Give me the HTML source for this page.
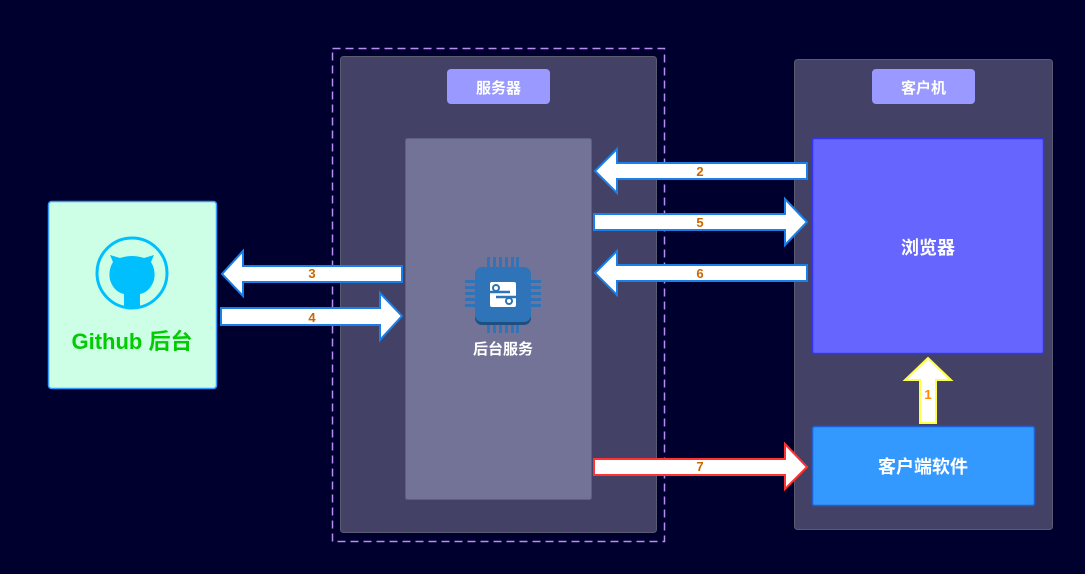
<!DOCTYPE html>
<html><head><meta charset="utf-8"><style>
html,body{margin:0;padding:0;background:#00002e;}
svg{display:block;}
text{font-family:"Liberation Sans","Noto Sans CJK SC",sans-serif;font-weight:bold;}
</style></head><body>
<svg width="1085" height="574" viewBox="0 0 1085 574" xmlns="http://www.w3.org/2000/svg">
<rect width="1085" height="574" fill="#00002e"/>
<rect x="332.5" y="48.5" width="332" height="493" fill="none" stroke="#b98cf2" stroke-width="1.5" stroke-dasharray="8,5"/>
<rect x="340.5" y="56.5" width="316" height="476" rx="3" fill="#434266" stroke="#5a5a70"/>
<rect x="447" y="69" width="103" height="35" rx="4" fill="#9999ff"/>
<text x="498.5" y="93" font-size="15" fill="#fff" text-anchor="middle">服务器</text>
<rect x="405.5" y="138.5" width="186" height="361" rx="2" fill="#737398" stroke="#5f5f80"/>
<rect x="794.5" y="59.5" width="258" height="470" rx="3" fill="#434266" stroke="#5a5a70"/>
<rect x="872" y="69" width="103" height="35" rx="4" fill="#9999ff"/>
<text x="923.5" y="93" font-size="15" fill="#fff" text-anchor="middle">客户机</text>
<rect x="812.5" y="138.5" width="231" height="215" rx="2" fill="#6666ff" stroke="#3333ff" stroke-width="1.5"/>
<text x="928" y="254" font-size="18" fill="#fff" text-anchor="middle">浏览器</text>
<rect x="812.5" y="426.5" width="222" height="79" rx="2" fill="#3399ff" stroke="#1f5fd0" stroke-width="1.5"/>
<text x="923" y="473" font-size="18" fill="#fff" text-anchor="middle">客户端软件</text>
<rect x="48.5" y="201.5" width="168" height="187" rx="3" fill="#ccffe6" stroke="#3399ff" stroke-width="1.5"/>
<circle cx="132" cy="273" r="35" fill="none" stroke="#00bfff" stroke-width="3"/>
<path d="M110 280 Q108 270 113 262 L110 255 L120 258 Q132 254 144 258 L154 255 L151 262 Q156 270 154 280 Q150 292 140 294 L140 307 Q132 310 124 307 L124 294 Q114 292 110 280Z" fill="#00bfff"/>
<text x="132" y="349" font-size="22" fill="#00cc00" text-anchor="middle">Github 后台</text>
<g fill="#2f74b8">
<rect x="487" y="257" width="3" height="76"/><rect x="493" y="257" width="3" height="76"/><rect x="499" y="257" width="3" height="76"/><rect x="505" y="257" width="3" height="76"/><rect x="511" y="257" width="3" height="76"/><rect x="516" y="257" width="3" height="76"/>
<rect x="465" y="280" width="76" height="3"/><rect x="465" y="286" width="76" height="3"/><rect x="465" y="292" width="76" height="3"/><rect x="465" y="298" width="76" height="3"/><rect x="465" y="304" width="76" height="3"/>
</g>
<rect x="475" y="269" width="56" height="56" rx="7" fill="#1f4f80"/>
<rect x="475" y="267" width="56" height="55" rx="7" fill="#2f74b8"/>
<rect x="490" y="282" width="26" height="25" rx="2" fill="#fff"/>
<path d="M490 292 H510 M496 297 H516" stroke="#2f74b8" stroke-width="2.5"/>
<circle cx="496" cy="288" r="3" fill="#fff" stroke="#2f74b8" stroke-width="2"/>
<circle cx="509" cy="301" r="3" fill="#fff" stroke="#2f74b8" stroke-width="2"/>
<text x="503" y="354" font-size="15" fill="#fff" text-anchor="middle">后台服务</text>
<g stroke="#1a7fe8" stroke-width="2" fill="#fff">
<path d="M807 163 H617 V149 L595 171 L617 193 V179 H807 Z"/>
<path d="M594 214 H785 V199 L807 222 L785 245 V230 H594 Z"/>
<path d="M807 265 H617 V251 L595 273 L617 295 V281 H807 Z"/>
<path d="M402 266 H243 V251 L222 274 L243 296 V282 H402 Z"/>
<path d="M221 308 H380 V293 L402 316 L380 340 V325 H221 Z"/>
</g>
<path d="M594 459 H785 V444 L807 467 L785 489 V475 H594 Z" fill="#fff" stroke="#ff3333" stroke-width="2"/>
<path d="M920 423 V380 H905 L928 358 L951 380 H936 V423 Z" fill="#fff" stroke="#ffff44" stroke-width="2"/>
<g font-size="13" fill="#cc6600" text-anchor="middle">
<text x="700" y="176">2</text><text x="700" y="227">5</text><text x="700" y="278">6</text>
<text x="312" y="278">3</text><text x="312" y="322">4</text><text x="700" y="471">7</text>
<text x="928" y="399" fill="#ff8800">1</text>
</g>
</svg>
</body></html>
